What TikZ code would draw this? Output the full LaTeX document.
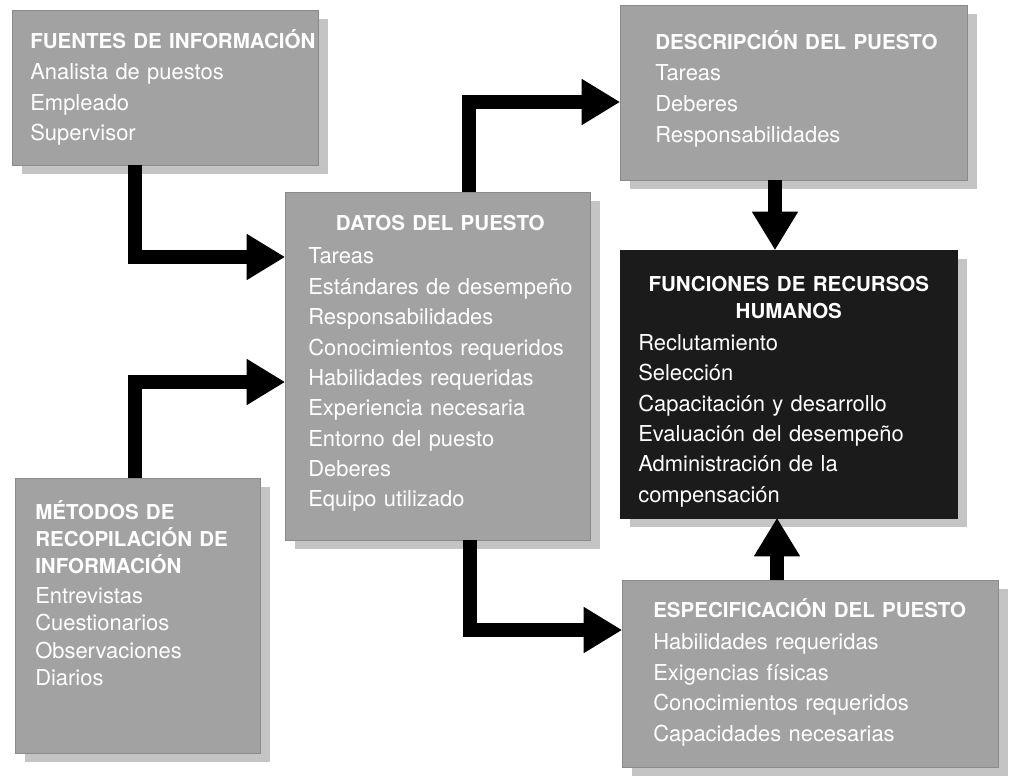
\documentclass[tikz,border=0pt]{standalone}
\usepackage{fontspec}
\setmainfont{TeX Gyre Heros}
\usetikzlibrary{arrows.meta,shadows,fit}

\definecolor{panelgray}{HTML}{A2A2A2}
\definecolor{shadegray}{HTML}{C4C4C4}
\definecolor{panelblack}{HTML}{1B1B1B}

\newcommand{\ttl}[1]{{\bfseries\fontsize{14.6}{21.6}\selectfont #1}}

\tikzset{
  panel/.style={rectangle, fill=panelgray, draw=panelgray!85!black, line width=0.5pt, inner sep=0pt,
    drop shadow={fill=shadegray, opacity=1, shadow xshift=0.25cm, shadow yshift=-0.22cm}},
  darkpanel/.style={panel, fill=panelblack, draw=panelblack},
  paneltext/.style={anchor=base west, inner sep=0pt, text=white, align=left, text width=8.5cm,
    font=\fontsize{15.6}{21.6}\selectfont},
  bigarrow/.style={line width=0.36cm, line join=miter,
    -{Triangle[width=1.16cm, length=0.95cm, line width=0pt]}},
}

\begin{document}
\begin{tikzpicture}[x=0.025cm, y=-0.025cm]
    \path[use as bounding box, fill=white] (0,0) rectangle (1018,781);

    \node (fuentes) [panel, fit={(12,10) (318,165)}] {};
    \node (datos) [panel, fit={(285,192) (590,540)}] {};
    \node (metodos) [panel, fit={(15,478) (260,753)}] {};
    \node (descripcion) [panel, fit={(620,5) (967,180)}] {};
    \node (funciones) [darkpanel, fit={(620,250) (957,518)}] {};
    \node (especificacion) [panel, fit={(622,580) (998,767)}] {};

    \node (fuentestxt) [paneltext, font=\fontsize{15.6}{21.8}\selectfont] at (30,49)
        {\ttl{FUENTES DE INFORMACIÓN}\\ Analista de puestos\\ Empleado\\ Supervisor};
    \node (datostxt) [paneltext, text width=7.5cm] at (308,230)
        {\makebox[6.6cm]{\ttl{DATOS DEL PUESTO}}\\[2.5pt] Tareas\\ Estándares de desempeño\\
         Responsabilidades\\ Conocimientos requeridos\\ Habilidades requeridas\\
         Experiencia necesaria\\ Entorno del puesto\\ Deberes\\ Equipo utilizado};
    \node (metodostxt) [paneltext, font=\fontsize{15.6}{19.4}\selectfont] at (35,519)
        {\ttl{MÉTODOS DE}\\ \ttl{RECOPILACIÓN DE}\\ \ttl{INFORMACIÓN}\\[2pt]
         Entrevistas\\ Cuestionarios\\ Observaciones\\ Diarios};
    \node (descripciontxt) [paneltext, font=\fontsize{15.6}{22}\selectfont] at (655,50)
        {\ttl{DESCRIPCIÓN DEL PUESTO}\\ Tareas\\ Deberes\\ Responsabilidades};
    \node (funcionestxt) [paneltext, text width=7.525cm] at (638,291)
        {\makebox[\linewidth]{\ttl{FUNCIONES DE RECURSOS}}\\[-2.4pt]
         \makebox[\linewidth]{\ttl{HUMANOS}}\\[1.4pt] Reclutamiento\\ Selección\\
         Capacitación y desarrollo\\ Evaluación del desempeño\\ Administración de la\\ compensación};
    \node (especificaciontxt) [paneltext] at (653,617)
        {\ttl{ESPECIFICACIÓN DEL PUESTO}\\[1.8pt] Habilidades requeridas\\ Exigencias físicas\\
         Conocimientos requeridos\\ Capacidades necesarias};

    \draw[bigarrow] (fuentes.south -| 135,0) |- (datos.west |- 0,257);
    \draw[bigarrow] (metodos.north -| 135,0) |- (datos.west |- 0,382);
    \draw[bigarrow] (datos.north -| 469,0) |- (descripcion.west |- 0,102);
    \draw[bigarrow] (datos.south -| 470,0) |- (especificacion.west |- 0,630);
    \draw[bigarrow] (descripcion.south -| 775,0) -- (funciones.north -| 775,0);
    \draw[bigarrow] (especificacion.north -| 777,0) -- (funciones.south -| 777,0);

\end{tikzpicture}
\end{document}
